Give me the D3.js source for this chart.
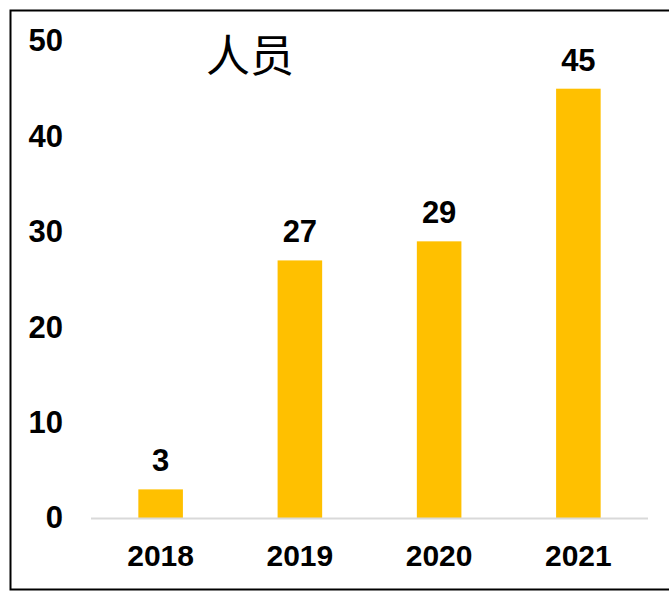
<!DOCTYPE html>
<html>
<head>
<meta charset="utf-8">
<script src="https://cdn.jsdelivr.net/npm/d3@7"></script>
<style>
  body { margin: 0; background: #fff; }
  text { font-family: Arial, "Liberation Sans", sans-serif; font-weight: bold; }
</style>
</head>
<body>
<div id="chart"></div>
<script>
const years = ['2018', '2019', '2020', '2021'];
const people = [3, 27, 29, 45];
const yTicks = [0, 10, 20, 30, 40, 50];
const title = '人员';

const svg = d3.select('#chart').append('svg')
    .attr('width', 669)
    .attr('height', 591);

// outer frame
svg.append('rect')
    .attr('x', 10.5).attr('y', 10.5)
    .attr('width', 670).attr('height', 579)
    .attr('fill', 'none')
    .attr('stroke', '#000')
    .attr('stroke-width', 2);

const x = d3.scaleBand()
    .domain(years)
    .range([91, 648])
    .paddingInner(0.68)
    .paddingOuter(0.34);

const y = d3.scaleLinear()
    .domain([0, 50])
    .range([518, 41]);

// y axis labels only
const yAxis = svg.append('g')
    .attr('transform', 'translate(63,0)')
    .call(d3.axisLeft(y).tickValues(yTicks).tickSize(0).tickPadding(0));
yAxis.select('.domain').remove();
yAxis.selectAll('text')
    .attr('font-size', 31)
    .attr('font-family', 'Arial, "Liberation Sans", sans-serif')
    .attr('font-weight', 'bold')
    .attr('fill', '#000');

// bars
svg.selectAll('.bar')
    .data(years)
    .join('rect')
    .attr('class', 'bar')
    .attr('x', d => x(d))
    .attr('y', (d, i) => y(people[i]))
    .attr('width', x.bandwidth())
    .attr('height', (d, i) => y(0) - y(people[i]))
    .attr('fill', '#FFC000');

// baseline
svg.append('line')
    .attr('x1', 91).attr('x2', 648)
    .attr('y1', y(0) + 0.5).attr('y2', y(0) + 0.5)
    .attr('stroke', '#d9d9d9')
    .attr('stroke-width', 2);

// x axis labels
const xAxis = svg.append('g')
    .attr('transform', `translate(0,${y(0)})`)
    .call(d3.axisBottom(x).tickSize(0).tickPadding(27));
xAxis.select('.domain').remove();
xAxis.selectAll('text')
    .attr('font-size', 30)
    .attr('font-family', 'Arial, "Liberation Sans", sans-serif')
    .attr('font-weight', 'bold')
    .attr('fill', '#000');

// value labels
svg.selectAll('.val')
    .data(years)
    .join('text')
    .attr('class', 'val')
    .attr('x', d => x(d) + x.bandwidth() / 2)
    .attr('y', (d, i) => y(people[i]) - 18)
    .attr('text-anchor', 'middle')
    .attr('font-size', 31)
    .attr('fill', '#000')
    .text((d, i) => people[i]);

// title
svg.append('text')
    .attr('x', 250)
    .attr('y', 72)
    .attr('text-anchor', 'middle')
    .attr('font-size', 44)
    .style('font-family', 'KaiTi, "Noto Sans CJK SC", sans-serif')
    .style('font-weight', 'normal')
    .text(title);
</script>
</body>
</html>
